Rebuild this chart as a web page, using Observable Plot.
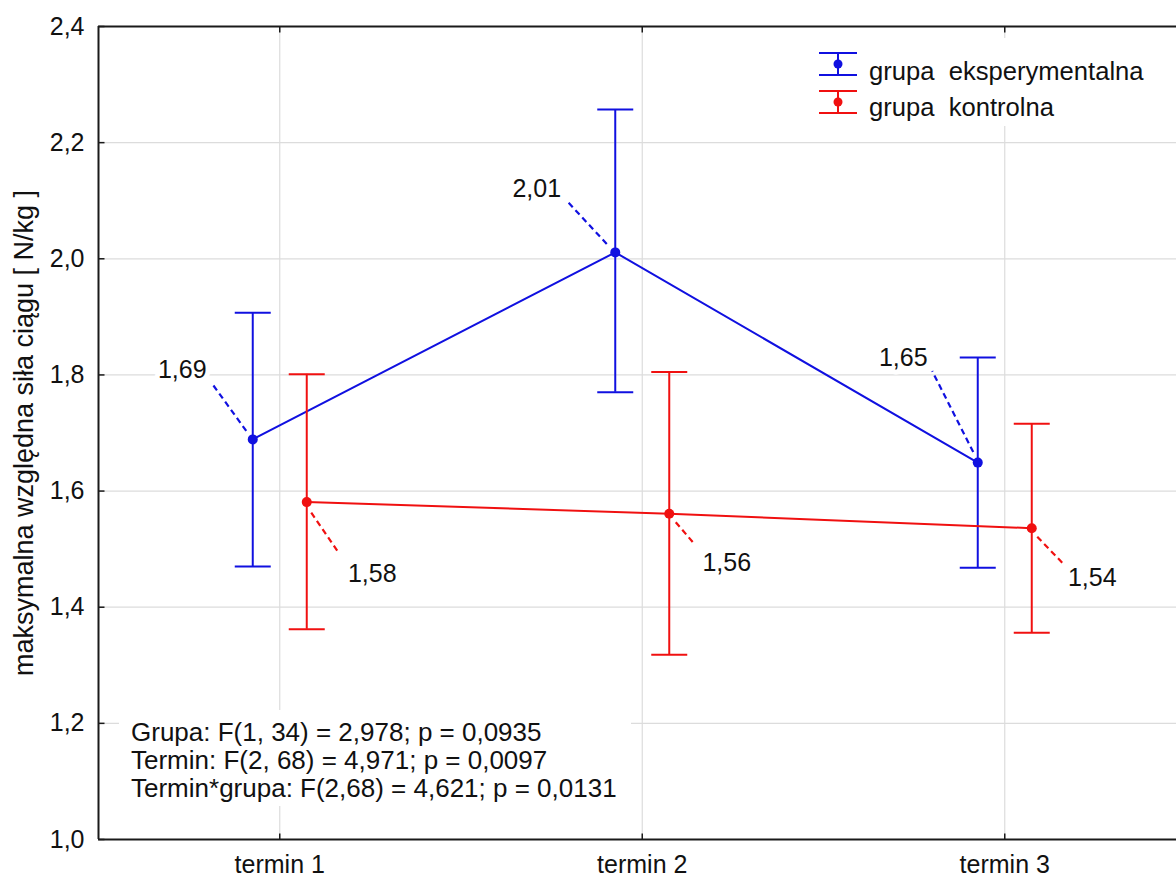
<!DOCTYPE html>
<html><head><meta charset="utf-8">
<script src="https://cdn.jsdelivr.net/npm/d3@7"></script>
<script src="https://cdn.jsdelivr.net/npm/@observablehq/plot@0.6"></script>
<style>body{margin:0;background:#fff;} svg{display:block;}</style>
</head><body><div id="chart"></div>
<script>
// ---- data ----
const terms = ["termin 1", "termin 2", "termin 3"];
const termIndex = [1, 2, 3];
const groupNames = ["grupa\u00a0 eksperymentalna", "grupa\u00a0 kontrolna"];
const expMean = [1.689, 2.011, 1.649];
const expLow = [1.470, 1.770, 1.468];
const expHigh = [1.907, 2.257, 1.830];
const ctrlMean = [1.581, 1.561, 1.536];
const ctrlLow = [1.362, 1.318, 1.356];
const ctrlHigh = [1.801, 1.805, 1.716];
const expLabels = ["1,69", "2,01", "1,65"];
const ctrlLabels = ["1,58", "1,56", "1,54"];
const yTicks = [1.0, 1.2, 1.4, 1.6, 1.8, 2.0, 2.2, 2.4];
const yTickLabels = ["1,0", "1,2", "1,4", "1,6", "1,8", "2,0", "2,2", "2,4"];
const yLabel = "maksymalna względna siła ciągu [ N/kg ]";
const statsLines = [
  "Grupa: F(1, 34) = 2,978; p = 0,0935",
  "Termin: F(2, 68) = 4,971; p = 0,0097",
  "Termin*grupa: F(2,68) = 4,621; p = 0,0131"
];

// ---- annotation placement (pixel offsets from each point) ----
const expLabelOffset = [[-70, -70], [-78, -64], [-74, -105]];
const expLeader = [[[-6, -8], [-40, -55]], [[-8, -8], [-47, -50]], [[-4, -10], [-45, -91]]];
const ctrlLabelOffset = [[66, 71], [58, 49], [61, 49]];
const ctrlLeader = [[[5, 11], [33, 52]], [[7, 9], [25, 30]], [[6, 9], [31, 35]]];

// ---- styles ----
const FONT = "'Liberation Sans', Arial, sans-serif";
const BLUE = "#1010e0";
const RED = "#f01010";
const GRID = "#dcdcdc";
const AXIS = "#1a1a1a";
const SHIFT = 27;

const exp = termIndex.map((t, i) => ({t, mean: expMean[i], low: expLow[i], high: expHigh[i], label: expLabels[i], off: expLabelOffset[i], leader: expLeader[i]}));
const ctrl = termIndex.map((t, i) => ({t, mean: ctrlMean[i], low: ctrlLow[i], high: ctrlHigh[i], label: ctrlLabels[i], off: ctrlLabelOffset[i], leader: ctrlLeader[i]}));

const capSym = {draw(c) { c.moveTo(-18, 0); c.lineTo(18, 0); }};
const tickRight = {draw(c) { c.moveTo(0, 0); c.lineTo(6, 0); }};
const tickUp = {draw(c) { c.moveTo(0, 0); c.lineTo(0, -6); }};
const tickDown = {draw(c) { c.moveTo(0, 0); c.lineTo(0, 6); }};

const width = 1176, height = 877;
const marginLeft = 98, marginRight = 0, marginTop = 26, marginBottom = 38;
const xMin = 0.5, xMax = 0.5 + (width - marginLeft - marginRight) / 362.5;

function groupMarks(rows, color, dx) {
  return [
    Plot.line(rows, {x: "t", y: "mean", stroke: color, strokeWidth: 2, dx}),
    Plot.ruleX(rows, {x: "t", y1: "low", y2: "high", stroke: color, strokeWidth: 2, dx}),
    Plot.dot(rows, {x: "t", y: "low", symbol: capSym, r: 2, stroke: color, strokeWidth: 2, fill: "none", dx}),
    Plot.dot(rows, {x: "t", y: "high", symbol: capSym, r: 2, stroke: color, strokeWidth: 2, fill: "none", dx}),
    Plot.dot(rows, {x: "t", y: "mean", r: 5, fill: color, stroke: null, dx})
  ];
}

function annotations(index, scales) {
  const g = d3.create("svg:g").attr("font-family", FONT).attr("font-size", 25).attr("fill", "#111");
  const addSet = (rows, color, dx) => rows.forEach(r => {
    const px = scales.x(r.t) + dx, py = scales.y(r.mean);
    g.append("text")
      .attr("x", px + r.off[0]).attr("y", py + r.off[1])
      .attr("text-anchor", "middle").attr("dy", "0.36em")
      .attr("stroke", "white").attr("stroke-width", 10).attr("paint-order", "stroke")
      .attr("stroke-linejoin", "round")
      .text(r.label);
    g.append("line")
      .attr("x1", px + r.leader[0][0]).attr("y1", py + r.leader[0][1])
      .attr("x2", px + r.leader[1][0]).attr("y2", py + r.leader[1][1])
      .attr("stroke", color).attr("stroke-width", 2.2).attr("stroke-dasharray", "6,4");
  });
  addSet(exp, BLUE, -SHIFT);
  addSet(ctrl, RED, SHIFT);
  return g.node();
}

function legend(index, scales, values, dims) {
  const g = d3.create("svg:g").attr("font-family", FONT).attr("font-size", 25.6).attr("fill", "#111").attr("text-anchor", "start");
  const x0 = 808, y0 = 38;
  g.append("rect").attr("x", x0).attr("y", y0).attr("width", 350).attr("height", 88).attr("fill", "white");
  [[BLUE, 64, 80, groupNames[0]], [RED, 102, 116, groupNames[1]]].forEach(([c, cy, by, txt]) => {
    const cx = 838;
    g.append("line").attr("x1", cx - 19).attr("x2", cx + 19).attr("y1", cy - 11).attr("y2", cy - 11).attr("stroke", c).attr("stroke-width", 2);
    g.append("line").attr("x1", cx - 19).attr("x2", cx + 19).attr("y1", cy + 11).attr("y2", cy + 11).attr("stroke", c).attr("stroke-width", 2);
    g.append("line").attr("x1", cx).attr("x2", cx).attr("y1", cy - 11).attr("y2", cy + 11).attr("stroke", c).attr("stroke-width", 2);
    g.append("circle").attr("cx", cx).attr("cy", cy).attr("r", 4.5).attr("fill", c);
    g.append("text").attr("x", 869).attr("y", by).attr("text-anchor", "start").text(txt);
  });
  return g.node();
}

function stats(index, scales, values, dims) {
  const g = d3.create("svg:g").attr("font-family", FONT).attr("font-size", 26).attr("fill", "#111").attr("text-anchor", "start");
  g.append("rect").attr("x", 119).attr("y", 710).attr("width", 512).attr("height", 96).attr("fill", "white");
  statsLines.forEach((s, i) => {
    g.append("text").attr("x", 131).attr("y", 740.5 + i * 28.3).attr("text-anchor", "start").text(s);
  });
  return g.node();
}

const chart = Plot.plot({
  width, height, marginLeft, marginRight, marginTop, marginBottom,
  style: {fontFamily: FONT, background: "white", color: "#111", overflow: "visible"},
  x: {type: "linear", domain: [xMin, xMax], axis: null},
  y: {domain: [1.0, 2.4], axis: null},
  marks: [
    Plot.gridY(yTicks, {stroke: GRID, strokeOpacity: 1, strokeWidth: 1.2}),
    Plot.gridX(termIndex, {stroke: GRID, strokeOpacity: 1, strokeWidth: 1.2}),
    Plot.axisY(yTicks, {tickSize: 0, tickPadding: 14, fontSize: 25, label: null,
      tickFormat: d => yTickLabels[yTicks.findIndex(v => Math.abs(v - d) < 1e-9)]}),
    Plot.axisX(termIndex, {tickSize: 0, tickPadding: 16, fontSize: 25, label: null,
      tickFormat: d => terms[termIndex.indexOf(d)]}),
    Plot.text([yLabel], {frameAnchor: "left", textAnchor: "middle", lineAnchor: "middle", rotate: -90, dx: -74, fontSize: 27, fill: "#111"}),
    stats,
    legend,
    Plot.ruleX([xMin], {stroke: AXIS, strokeWidth: 2}),
    Plot.ruleY([1.0], {stroke: AXIS, strokeWidth: 2}),
    Plot.ruleY([2.4], {stroke: AXIS, strokeWidth: 2}),
    Plot.dot(yTicks, {x: () => xMin, y: d => d, symbol: tickRight, r: 2, stroke: AXIS, strokeWidth: 1.5, fill: "none"}),
    Plot.dot(termIndex, {x: d => d, y: () => 1.0, symbol: tickUp, r: 2, stroke: AXIS, strokeWidth: 1.5, fill: "none"}),
    Plot.dot(termIndex, {x: d => d, y: () => 2.4, symbol: tickDown, r: 2, stroke: AXIS, strokeWidth: 1.5, fill: "none"}),
    ...groupMarks(exp, BLUE, -SHIFT),
    ...groupMarks(ctrl, RED, SHIFT),
    annotations
  ]
});
document.getElementById("chart").appendChild(chart);
</script>
</body></html>
